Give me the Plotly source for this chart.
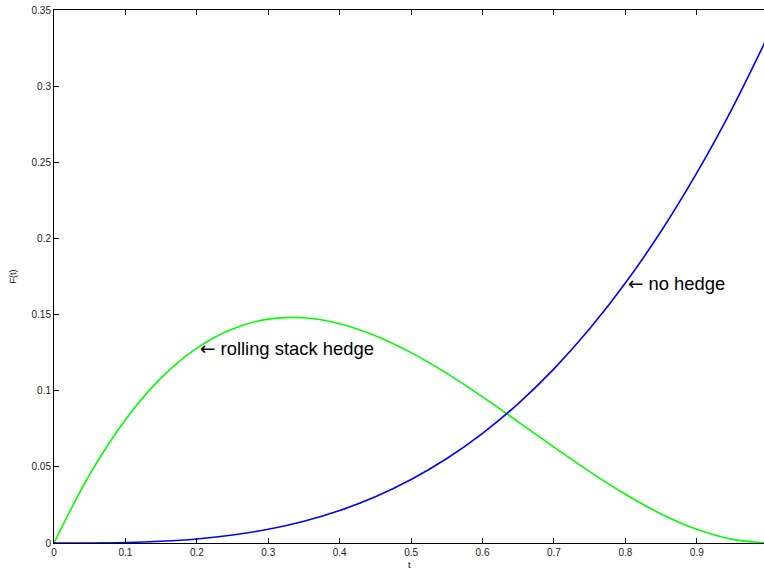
import plotly.graph_objects as go

t_values = [0.0, 0.05, 0.1, 0.15, 0.2, 0.25, 0.3, 0.35, 0.4, 0.45, 0.5,
            0.55, 0.6, 0.65, 0.7, 0.75, 0.8, 0.85, 0.9, 0.95, 1.0]
rolling_stack = [0.0, 0.0451, 0.081, 0.1084, 0.128, 0.1406, 0.147, 0.1479, 0.144, 0.1361, 0.125,
                 0.1114, 0.096, 0.0796, 0.063, 0.0469, 0.032, 0.0191, 0.009, 0.0024, 0.0]
no_hedge = [0.0, 0.00004, 0.00033, 0.00113, 0.00267, 0.00521, 0.009, 0.01429, 0.02133, 0.03038, 0.04167,
            0.05546, 0.072, 0.09154, 0.11433, 0.14063, 0.17067, 0.20471, 0.243, 0.28579, 0.33333]
x_ticks = [0, 0.1, 0.2, 0.3, 0.4, 0.5, 0.6, 0.7, 0.8, 0.9]
y_ticks = [0, 0.05, 0.1, 0.15, 0.2, 0.25, 0.3, 0.35]
labels = ["rolling stack hedge", "no hedge"]
label_t = [0.2, 0.8]
label_y = [rolling_stack[4], no_hedge[16]]

fig = go.Figure()
fig.add_trace(go.Scatter(x=t_values, y=rolling_stack, mode="lines",
                         line=dict(color="#00ff00", width=1.6, shape="spline"),
                         showlegend=False, hoverinfo="skip"))
fig.add_trace(go.Scatter(x=t_values, y=no_hedge, mode="lines",
                         line=dict(color="#0000ff", width=1.6, shape="spline"),
                         showlegend=False, hoverinfo="skip"))

for txt, xx, yy in zip(labels, label_t, label_y):
    fig.add_annotation(x=xx, y=yy,
                       text="<span style='font-family:DejaVu Sans'>←</span> " + txt,
                       showarrow=False, xanchor="left", yanchor="middle", xshift=1,
                       font=dict(family="Liberation Sans, Arial", size=18.4, color="black"))

fig.add_annotation(x=-0.059, y=0.5, xref="paper", yref="paper", text="F(t)", showarrow=False,
                   textangle=-90, xanchor="center", yanchor="middle",
                   font=dict(family="Liberation Sans, Arial", size=9, color="black"))
fig.add_annotation(x=0.5, y=-0.0415, xref="paper", yref="paper", text="t", showarrow=False,
                   xanchor="center", yanchor="middle",
                   font=dict(family="Liberation Sans, Arial", size=9, color="black"))

axis_common = dict(showgrid=False, zeroline=False, showline=True, linecolor="black",
                   linewidth=1, ticks="inside", ticklen=5, tickcolor="black", tickwidth=1,
                   tickfont=dict(family="Liberation Sans, Arial", size=10, color="#222"))
fig.update_xaxes(range=[0, 0.9941], tickvals=x_ticks, ticktext=[f"{v:g}" for v in x_ticks],
                 mirror="ticks", **axis_common)
fig.update_yaxes(range=[0, 0.35], tickvals=y_ticks, ticktext=[f"{v:g}" for v in y_ticks],
                 mirror=False, **axis_common)
fig.update_layout(width=764, height=571, margin=dict(l=54, r=0, t=10, b=28),
                  plot_bgcolor="white", paper_bgcolor="white")
fig.write_html("out.html")
